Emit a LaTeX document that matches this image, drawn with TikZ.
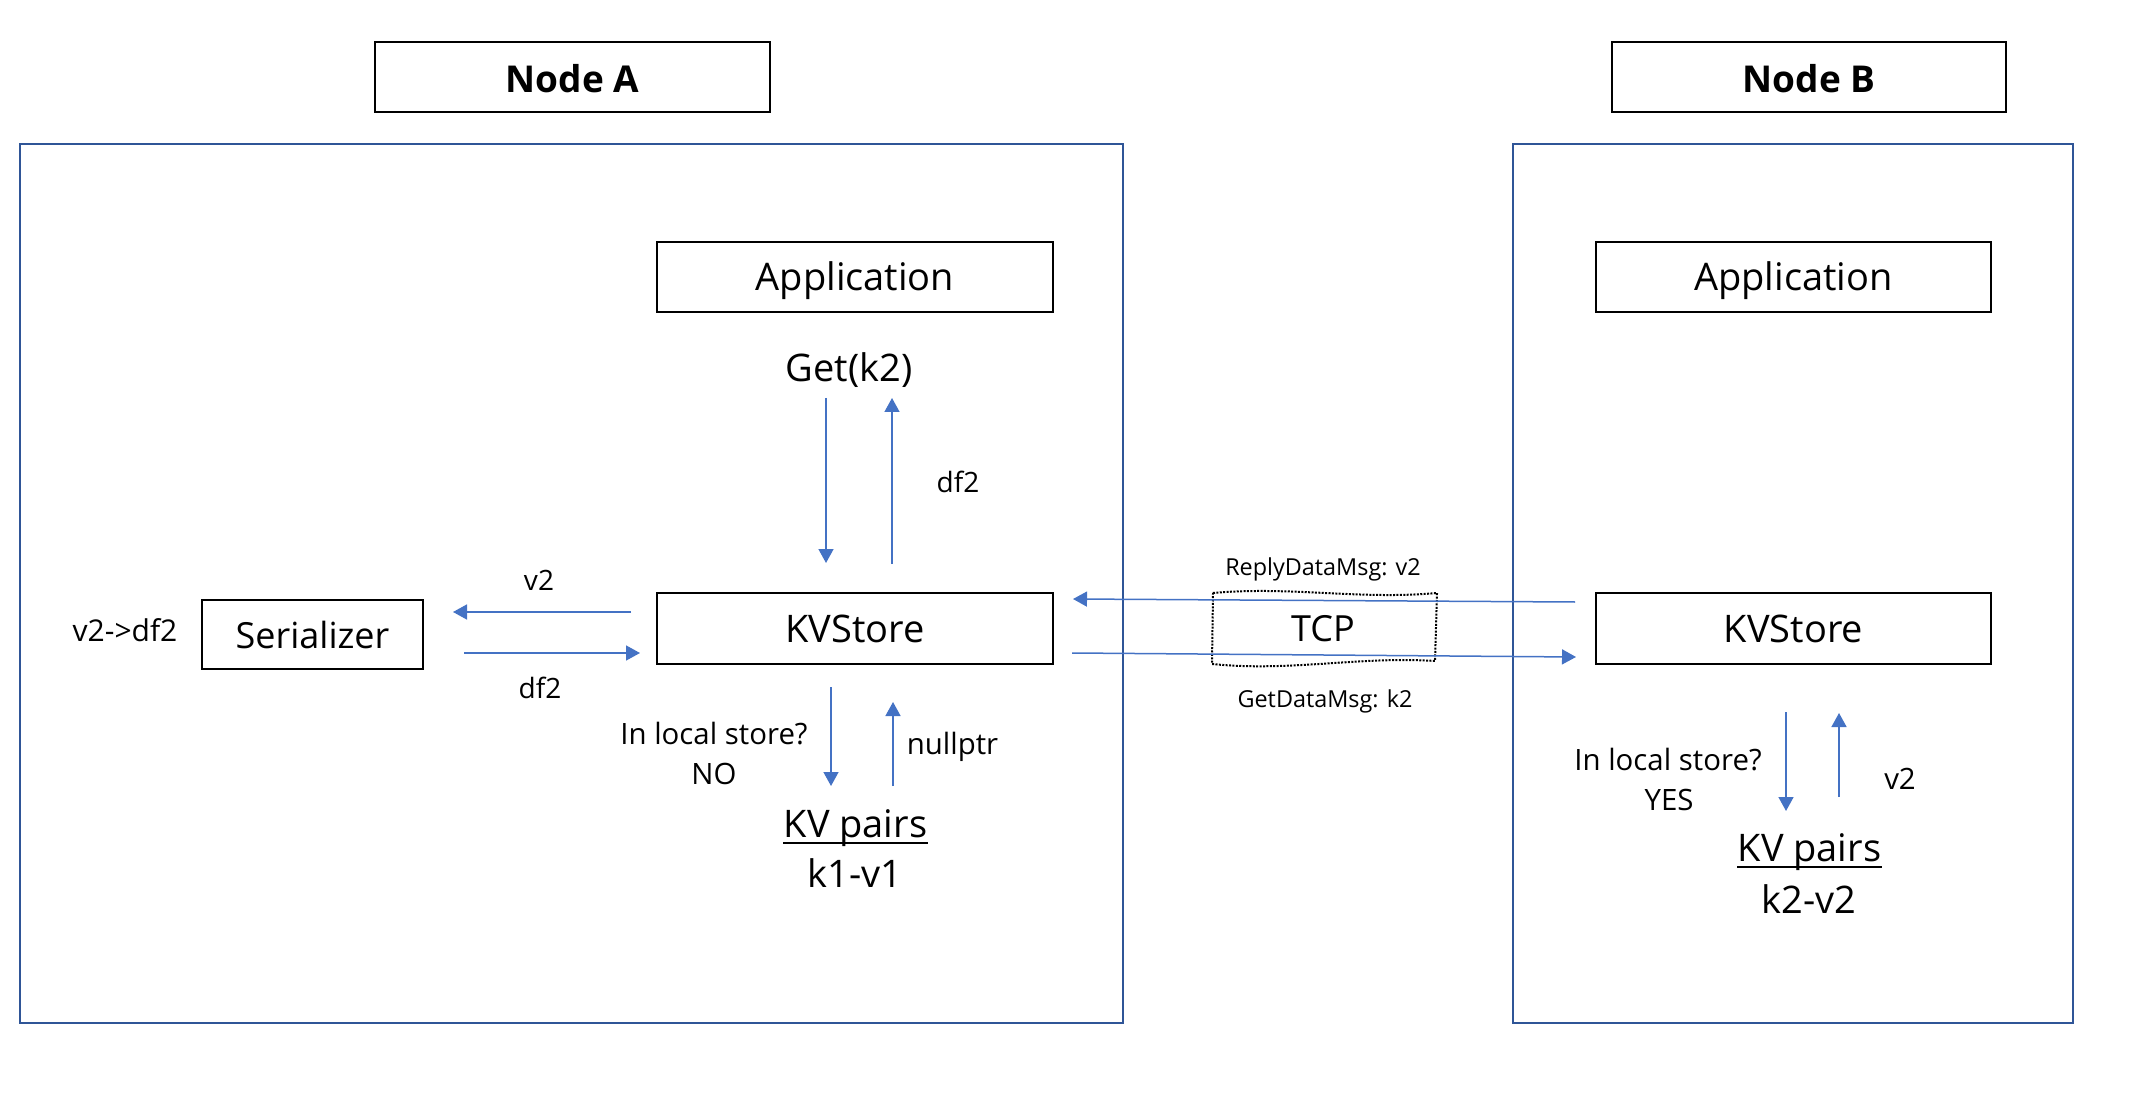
\documentclass[tikz,border=0pt]{standalone}
\usepackage{fontspec}
\setmainfont{Open Sans}
\usetikzlibrary{arrows.meta}
\definecolor{contblue}{RGB}{47,85,151}
\definecolor{arrblue}{RGB}{68,114,196}
\tikzset{
  box/.style={draw=black, line width=1pt, inner sep=0pt, text depth=0pt, text height=14pt, font=\fontsize{19}{22}\selectfont},
  cont/.style={draw=contblue, line width=1pt, inner sep=0pt},
  arr/.style={draw=arrblue, line width=0.75pt, -{Triangle[length=7pt,width=7.5pt]}},
  big/.style={inner sep=0pt, font=\fontsize{19}{22}\selectfont},
  mid/.style={inner sep=0pt, font=\fontsize{14.7}{17}\selectfont},
  lab/.style={inner sep=0pt, font=\fontsize{14}{17}\selectfont},
  msg/.style={inner sep=0pt, font=\fontsize{11.7}{14}\selectfont},
}
\begin{document}
\begin{tikzpicture}[x=0.5pt, y=-0.5pt]
\useasboundingbox (0,0) rectangle (2130,1101);

% containers
\node[cont, minimum width=551.5pt, minimum height=439.5pt] (contA) at (571.5,583.5) {};
\node[cont, minimum width=280pt, minimum height=439.5pt] (contB) at (1793,583.5) {};

% titles
\node[box, font=\fontsize{18.5}{22}\selectfont\bfseries, text height=14.6pt, minimum width=197.5pt, minimum height=35pt] (nodeA) at (572.5,77.5) {Node A};
\node[box, font=\fontsize{18.5}{22}\selectfont\bfseries, text height=14.6pt, minimum width=197pt, minimum height=35pt] (nodeB) at (1809,77.5) {Node B};

% boxes
\node[box, minimum width=198pt, minimum height=35pt] (appA) at (855,277) {Application};
\node[box, minimum width=197.5pt, minimum height=35pt] (appB) at (1793.5,277) {Application};
\node[box, minimum width=198pt, minimum height=35.5pt] (kvA) at (855,628.5) {KVStore};
\node[box, minimum width=197.5pt, minimum height=35.5pt] (kvB) at (1793.5,628.5) {KVStore};
\node[box, font=\fontsize{18}{22}\selectfont, text height=13.5pt, minimum width=110.5pt, minimum height=34.5pt] (ser) at (312.5,634.5) {Serializer};

% texts
\node[big] (get) at (849,370) {Get(k2)};
\node[lab] (ldfup) at (958,482) {df2};
\node[lab] (lv2l) at (539,580) {v2};
\node[lab] (ldfl) at (540,688) {df2};
\node[inner sep=0pt, font=\fontsize{15}{18}\selectfont] (conv) at (125,630) {v2->df2};
\node[msg] (lreply) at (1323,569.5) {ReplyDataMsg: v2};
\node[msg] (lget) at (1325,701.5) {GetDataMsg: k2};
\node[inner sep=0pt, font=\fontsize{18}{22}\selectfont] (tcp) at (1323,629) {TCP};

\node[mid] (qA) at (714,733.5) {In local store?};
\node[mid] (noA) at (714,774) {NO};
\node[mid] (nullA) at (952.5,746.5) {nullptr};
\node[big, anchor=base] (kpA) at (855.5,837) {KV pairs};
\node[big, anchor=base] (kvvA) at (855,887) {k1-v1};

\node[mid] (qB) at (1668,759.5) {In local store?};
\node[mid] (yesB) at (1669,800) {YES};
\node[mid] (v2B) at (1900,779) {v2};
\node[big, anchor=base] (kpB) at (1809.5,861) {KV pairs};
\node[big, anchor=base] (kvvB) at (1809,913) {k2-v2};

% underlines
\draw[line width=1pt] ([yshift=-3pt]kpA.base west) -- ([yshift=-3pt]kpA.base east);
\draw[line width=1pt] ([yshift=-3pt]kpB.base west) -- ([yshift=-3pt]kpB.base east);

% TCP wavy dotted outline
\draw[line width=1pt, dash pattern=on 1pt off 0.7pt]
  (1213,593) .. controls (1290,586) and (1360,600) .. (1437,593)
  -- (1435,661)
  .. controls (1360,656) and (1290,672) .. (1212,664) -- cycle;

% arrow end points
\coordinate (a1s) at (826,398);  \coordinate (a1e) at (826,563);
\coordinate (a2s) at (892,564);  \coordinate (a2e) at (892,398);
\coordinate (a3s) at (631,612);  \coordinate (a3e) at (453,612);
\coordinate (a4s) at (464,653);  \coordinate (a4e) at (640,653);
\coordinate (a5s) at (1575,602); \coordinate (a5e) at (1073,599);
\coordinate (a6s) at (1072,653); \coordinate (a6e) at (1576,657);
\coordinate (a7s) at (831,687);  \coordinate (a7e) at (831,786);
\coordinate (a8s) at (893,786);  \coordinate (a8e) at (893,702);
\coordinate (a9s) at (1786,712); \coordinate (a9e) at (1786,811);
\coordinate (a10s) at (1839,797); \coordinate (a10e) at (1839,713);

\draw[arr] (a1s) -- (a1e);
\draw[arr] (a2s) -- (a2e);
\draw[arr] (a3s) -- (a3e);
\draw[arr] (a4s) -- (a4e);
\draw[arr] (a5s) -- (a5e);
\draw[arr] (a6s) -- (a6e);
\draw[arr] (a7s) -- (a7e);
\draw[arr] (a8s) -- (a8e);
\draw[arr] (a9s) -- (a9e);
\draw[arr] (a10s) -- (a10e);
\end{tikzpicture}
\end{document}
